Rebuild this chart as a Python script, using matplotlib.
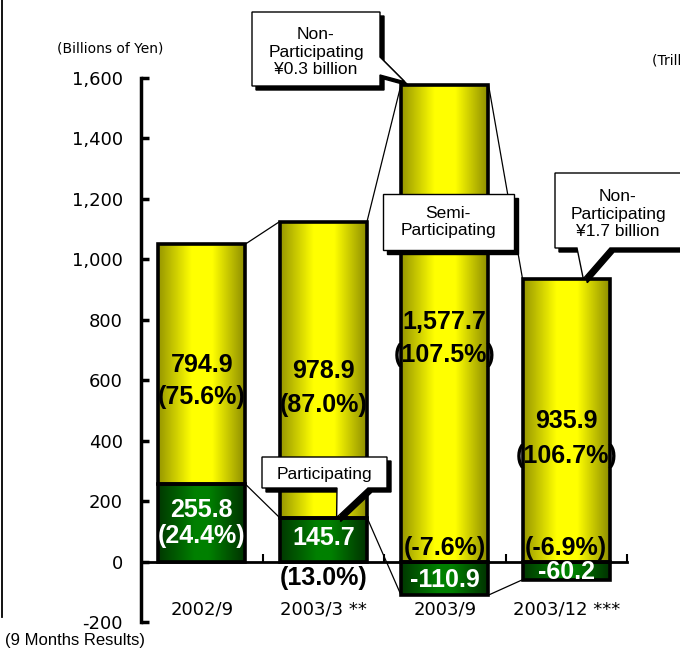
import numpy as np
import matplotlib.pyplot as plt
from matplotlib.patches import Polygon
from matplotlib.lines import Line2D
from matplotlib.colors import LinearSegmentedColormap

periods = ['2002/9', '2003/3 **', '2003/9', '2003/12 ***']
participating = [255.8, 145.7, -110.9, -60.2]
semi_participating = [794.9, 978.9, 1577.7, 935.9]
participating_pct = ['(24.4%)', '(13.0%)', '(-7.6%)', '(-6.9%)']
semi_pct = ['(75.6%)', '(87.0%)', '(107.5%)', '(106.7%)']
yticks = [-200, 0, 200, 400, 600, 800, 1000, 1200, 1400, 1600]

# label heights (data units) for the value / share text on each bar
semi_value_y = [651, 631, 793, 466]
semi_pct_y = [545, 519, 684, 350]
part_value_y = [169, 79, -60, -33]
part_pct_y = [83, -53, 46, 46]

W, H = 680, 650
fig = plt.figure(figsize=(W / 100, H / 100), dpi=100)
ax = fig.add_axes([141 / W, 28 / H, 486 / W, 544 / H])
ax.set_xlim(-0.5, 3.5)
ax.set_ylim(-200, 1600)

x = np.arange(len(periods))
width = 0.72
semi_bottom = [max(p, 0) for p in participating]

yellow = LinearSegmentedColormap.from_list(
    'yel', [(0, '#969600'), (0.38, '#ffff00'), (0.62, '#ffff00'), (1, '#8a8a00')])
green = LinearSegmentedColormap.from_list(
    'grn', [(0, '#003800'), (0.42, '#008000'), (0.58, '#008000'), (1, '#003000')])
grad = np.linspace(0, 1, 256).reshape(1, -1)

part_bars = ax.bar(x, participating, width, facecolor='none', edgecolor='black',
                   linewidth=2.6, zorder=4)
semi_bars = ax.bar(x, semi_participating, width, bottom=semi_bottom, facecolor='none',
                   edgecolor='black', linewidth=2.6, zorder=4)

for bars, cmap in [(part_bars, green), (semi_bars, yellow)]:
    for p in bars:
        x0, y0 = p.get_x(), p.get_y()
        ax.imshow(grad, extent=[x0, x0 + p.get_width(), y0, y0 + p.get_height()],
                  cmap=cmap, aspect='auto', zorder=2, interpolation='bilinear')
ax.set_xlim(-0.5, 3.5)
ax.set_ylim(-200, 1600)

# thin connector lines between neighbouring bars
semi_top = [b + v for b, v in zip(semi_bottom, semi_participating)]
for i in range(len(periods) - 1):
    ax.plot([x[i] + width / 2, x[i + 1] - width / 2], [semi_top[i], semi_top[i + 1]],
            color='black', lw=0.9, zorder=1)
    ax.plot([x[i] + width / 2, x[i + 1] - width / 2], [participating[i], participating[i + 1]],
            color='black', lw=0.9, zorder=1)

bold = dict(family='Liberation Sans', fontweight='bold', fontsize=18, ha='center',
            va='center', zorder=5)
for i in range(len(periods)):
    ax.text(x[i], semi_value_y[i], f'{semi_participating[i]:,.1f}', color='black', **bold)
    ax.text(x[i], semi_pct_y[i], semi_pct[i], color='black', **bold)
    ax.text(x[i], part_value_y[i], f'{participating[i]:,.1f}', color='white', **bold)
    lo, hi = sorted([0, participating[i]])
    inside = lo <= part_pct_y[i] <= hi
    ax.text(x[i], part_pct_y[i], participating_pct[i],
            color='white' if inside else 'black', **bold)

for i, lab in enumerate(periods):
    ax.text(x[i], -160, lab, ha='center', va='center', fontsize=13,
            family='DejaVu Sans')

for s in ['top', 'right']:
    ax.spines[s].set_visible(False)
ax.spines['left'].set_linewidth(2.5)
ax.spines['bottom'].set_position(('data', 0))
ax.spines['bottom'].set_linewidth(2)
ax.set_yticks(yticks)
ax.set_yticklabels([f'{v:,}' for v in yticks])
ax.tick_params(axis='y', direction='in', length=6, width=2.5, pad=13, labelsize=13)
ax.set_xticks([0.5, 1.5, 2.5, 3.5])
ax.tick_params(axis='x', direction='in', length=6, width=1.5, labelbottom=False)


# callout boxes, drawn in pixel coordinates from the top-left corner
def fig_xy(px, py):
    return (px / W, 1 - py / H)


def data_px(xd, yd):
    dx, dy = ax.transData.transform((xd, yd))
    return (dx, H - dy)


def callout(points, text, center, fs=12.5):
    shadow = [fig_xy(px + 4, py + 4) for px, py in points]
    fig.add_artist(Polygon(shadow, closed=True, transform=fig.transFigure,
                           facecolor='black', edgecolor='black', lw=1, zorder=10))
    fig.add_artist(Polygon([fig_xy(*p) for p in points], closed=True,
                           transform=fig.transFigure, facecolor='white',
                           edgecolor='black', lw=1, zorder=11))
    fig.text(*fig_xy(*center), text, ha='center', va='center', fontsize=fs,
             family='Liberation Sans', linespacing=1.2, zorder=12)


tip1 = data_px(x[2] - width / 2 + 0.03, semi_top[2] + 10)
callout([(252, 12), (380, 12), (380, 57), tip1, (380, 75), (380, 86), (252, 86)],
        'Non-\nParticipating\n¥0.3 billion', (316, 52))

callout([(383, 194), (514, 194), (514, 250), (383, 250)],
        'Semi-\nParticipating', (448, 222))

tip3 = data_px(x[3] + 0.14, semi_top[3])
callout([(555, 173), (682, 173), (682, 248), (610, 248), tip3, (577, 248), (555, 248)],
        'Non-\nParticipating\n¥1.7 billion', (618, 214))

tip4 = data_px(x[1] + 0.11, participating[1])
callout([(262, 457), (387, 457), (387, 488), (368, 488), tip4, (337, 488), (262, 488)],
        'Participating', (324, 474))

fig.add_artist(Line2D([2 / W, 2 / W], [1, 1 - 617 / H], transform=fig.transFigure,
                      color='black', lw=1.3))
fig.text(*fig_xy(110, 48), '(Billions of Yen)', ha='center', va='center', fontsize=10)
fig.text(*fig_xy(652, 60), '(Trillions of Yen)', ha='left', va='center', fontsize=10)
fig.text(*fig_xy(5, 640), '(9 Months Results)', ha='left', va='center', fontsize=12,
         family='Liberation Sans')
fig.text(*fig_xy(162, 651), '* Includes net gains on investments in the period',
         ha='left', va='top', fontsize=11, family='Liberation Sans')

fig.savefig('out.png', dpi=100)
